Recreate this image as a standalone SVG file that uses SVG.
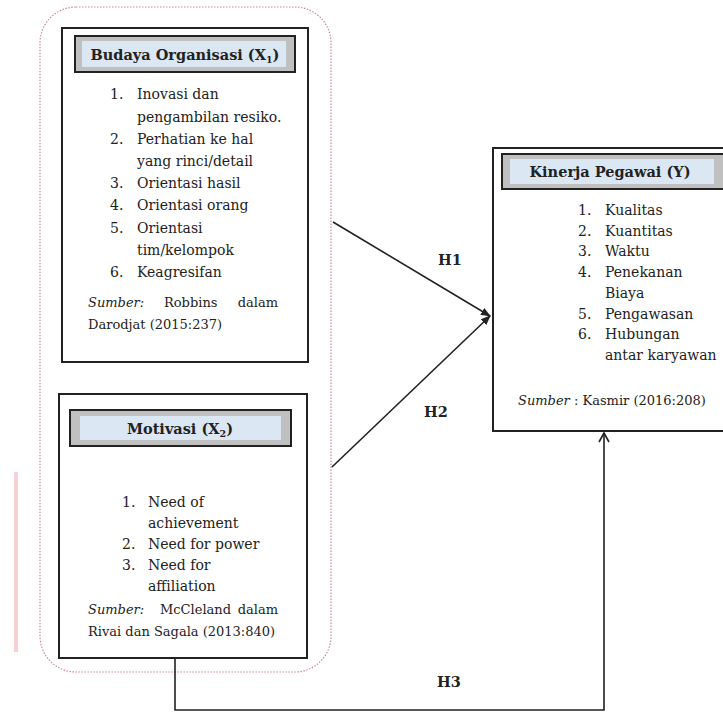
<svg xmlns="http://www.w3.org/2000/svg" width="723" height="713" viewBox="0 0 723 713">
<style>
text{font-family:"DejaVu Serif","Liberation Serif",serif}
.t{font-size:14px;fill:#222}
.s{font-size:13px;fill:#222}
.h{font-size:14.5px;font-weight:bold;fill:#222}
.box{fill:#fff;stroke:#222;stroke-width:2}
.hdo{fill:#c0c0c0;stroke:#222;stroke-width:2}
.hdi{fill:#dce7f4}
.ln{fill:none;stroke:#222;stroke-width:1.6}
</style>
<defs>
<marker id="af" markerWidth="10" markerHeight="10" refX="9" refY="5" orient="auto" markerUnits="userSpaceOnUse">
<path d="M0,1 L10,5 L0,9 Z" fill="#222"/>
</marker>
<marker id="ao" markerWidth="12" markerHeight="12" refX="10" refY="6" orient="auto" markerUnits="userSpaceOnUse">
<path d="M1,1 L10,6 L1,11" fill="none" stroke="#222" stroke-width="1.6"/>
</marker>
</defs>
<rect width="723" height="713" fill="#fff"/>
<rect x="14" y="472" width="4" height="180" fill="#f8d0d4"/>
<rect id="frame" x="40" y="7" width="291" height="665" rx="36" ry="36" fill="none" stroke="#c98a8e" stroke-width="1.2" stroke-dasharray="1.5,1.5"/>

<g id="connectors">
<line class="ln" x1="333" y1="222" x2="490" y2="316" marker-end="url(#af)"/>
<line class="ln" x1="332" y1="467" x2="490" y2="316" marker-end="url(#af)"/>
<polyline class="ln" points="175,658 175,710 604,710 604,433" marker-end="url(#ao)"/>
<text class="h" x="438" y="265">H1</text>
<text class="h" x="424" y="417">H2</text>
<text class="h" x="437" y="687">H3</text>
</g>

<g id="x1">
<rect class="box" x="62" y="28" width="246" height="334"/>
<rect class="hdo" x="75" y="36" width="220" height="36"/>
<rect class="hdi" x="82" y="41" width="204" height="26"/>
<text class="h" x="185" y="60" text-anchor="middle">Budaya Organisasi (X<tspan font-size="9.5" dy="3">1</tspan><tspan dy="-3">)</tspan></text>
<text class="t"><tspan x="110" y="99">1.</tspan><tspan x="137" y="99">Inovasi dan</tspan><tspan x="137" y="122">pengambilan resiko.</tspan><tspan x="110" y="144">2.</tspan><tspan x="137" y="144">Perhatian ke hal</tspan><tspan x="137" y="166">yang rinci/detail</tspan><tspan x="110" y="188">3.</tspan><tspan x="137" y="188">Orientasi hasil</tspan><tspan x="110" y="210">4.</tspan><tspan x="137" y="210">Orientasi orang</tspan><tspan x="110" y="233">5.</tspan><tspan x="137" y="233">Orientasi</tspan><tspan x="137" y="255">tim/kelompok</tspan><tspan x="110" y="277">6.</tspan><tspan x="137" y="277">Keagresifan</tspan></text>
<text class="s" y="307"><tspan x="88" font-style="italic">Sumber:</tspan><tspan x="164">Robbins</tspan><tspan x="278" text-anchor="end">dalam</tspan></text>
<text class="s" x="88" y="329">Darodjat (2015:237)</text>
</g>

<g id="x2">
<rect class="box" x="59" y="394" width="248" height="264"/>
<rect class="hdo" x="70" y="410" width="221" height="36"/>
<rect class="hdi" x="80" y="416" width="201" height="24"/>
<text class="h" x="180" y="434" text-anchor="middle">Motivasi (X<tspan font-size="9.5" dy="3">2</tspan><tspan dy="-3">)</tspan></text>
<text class="t"><tspan x="122" y="507">1.</tspan><tspan x="148" y="507">Need of</tspan><tspan x="148" y="528">achievement</tspan><tspan x="122" y="549">2.</tspan><tspan x="148" y="549">Need for power</tspan><tspan x="122" y="570">3.</tspan><tspan x="148" y="570">Need for</tspan><tspan x="148" y="591">affiliation</tspan></text>
<text class="s" y="614"><tspan x="88" font-style="italic">Sumber:</tspan><tspan x="160">McCleland</tspan><tspan x="278" text-anchor="end">dalam</tspan></text>
<text class="s" x="88" y="636">Rivai dan Sagala (2013:840)</text>
</g>

<g id="y">
<rect class="box" x="493" y="148" width="232" height="283"/>
<rect class="hdo" x="502" y="154" width="223" height="35"/>
<rect class="hdi" x="510" y="159" width="204" height="25"/>
<text class="h" x="610" y="177" text-anchor="middle">Kinerja Pegawai (Y)</text>
<text class="t"><tspan x="578" y="215">1.</tspan><tspan x="605" y="215">Kualitas</tspan><tspan x="578" y="236">2.</tspan><tspan x="605" y="236">Kuantitas</tspan><tspan x="578" y="256">3.</tspan><tspan x="605" y="256">Waktu</tspan><tspan x="578" y="277">4.</tspan><tspan x="605" y="277">Penekanan</tspan><tspan x="605" y="298">Biaya</tspan><tspan x="578" y="319">5.</tspan><tspan x="605" y="319">Pengawasan</tspan><tspan x="578" y="339">6.</tspan><tspan x="605" y="339">Hubungan</tspan><tspan x="605" y="360">antar karyawan</tspan></text>
<text class="s" x="518" y="405"><tspan font-style="italic">Sumber</tspan> : Kasmir (2016:208)</text>
</g>
</svg>
